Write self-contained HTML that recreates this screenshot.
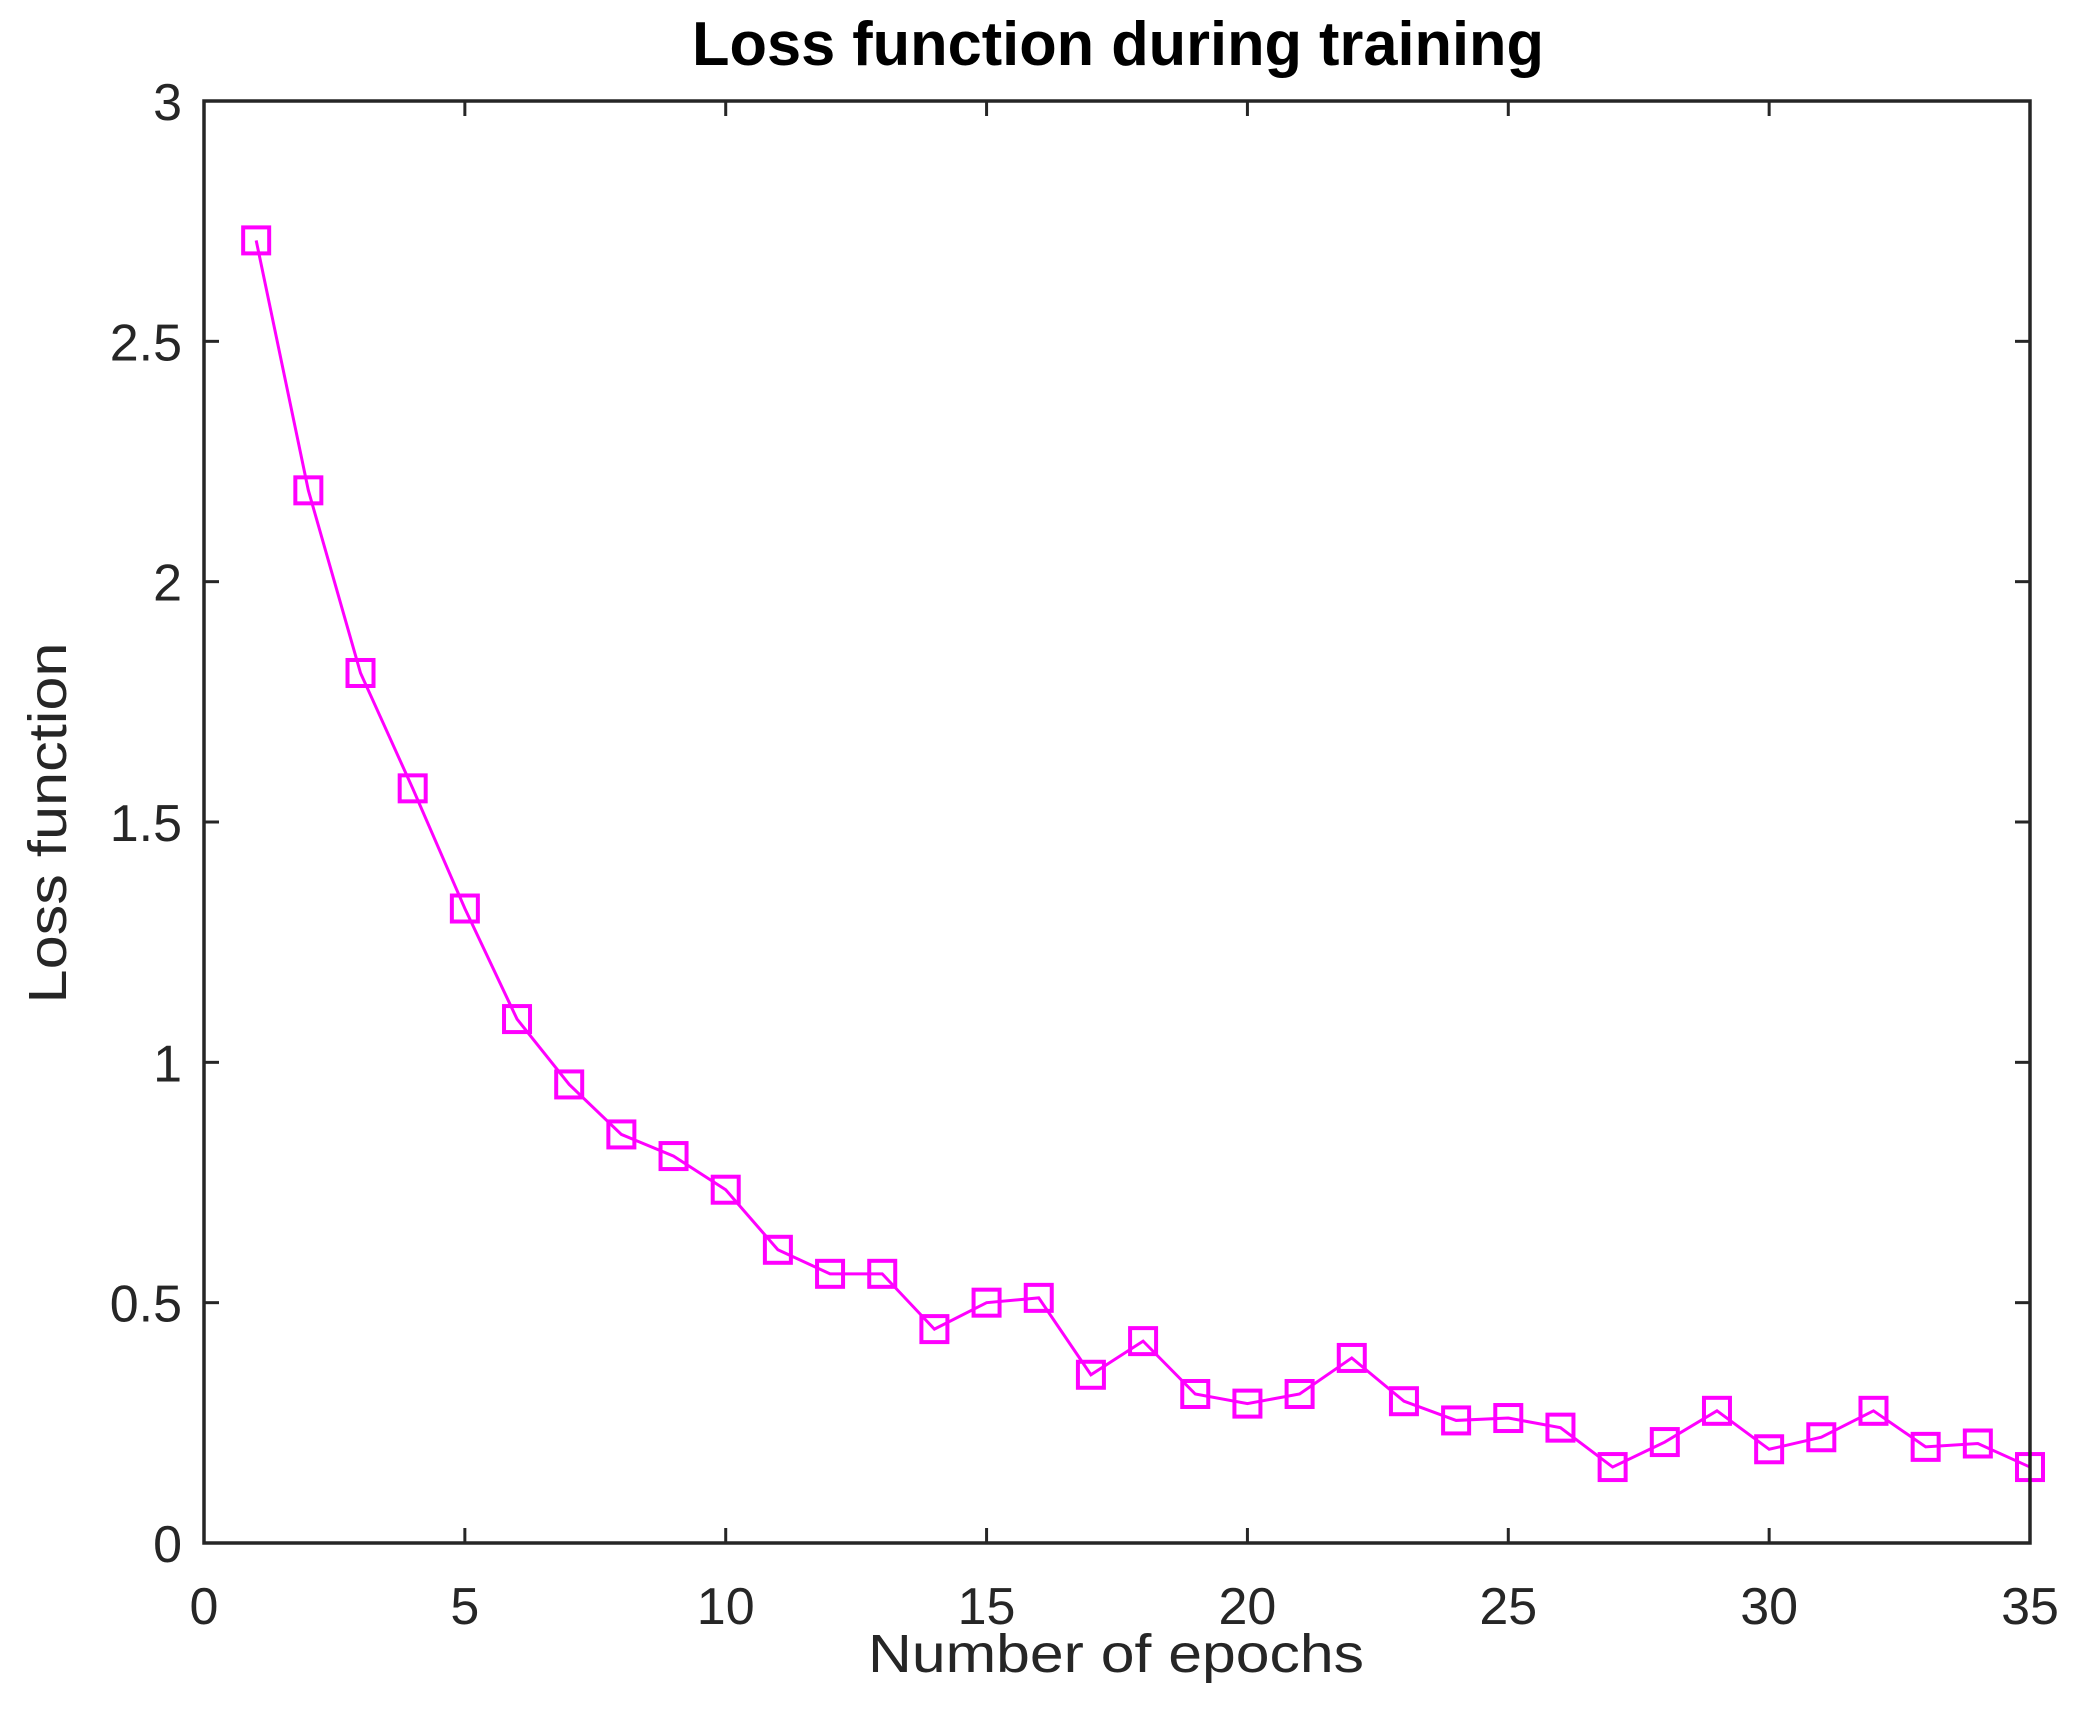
<!DOCTYPE html>
<html><head><meta charset="utf-8"><style>
html,body{margin:0;padding:0;background:#fff}
svg{display:block}
text{font-family:"Liberation Sans",Arial,sans-serif;fill:#262626}
</style></head><body>
<svg id="chart" width="2084" height="1736" viewBox="0 0 2084 1736" xmlns="http://www.w3.org/2000/svg">
<rect x="0" y="0" width="2084" height="1736" fill="#fff"/>
<text x="1118" y="65" text-anchor="middle" font-size="62" font-weight="bold" style="fill:#000" textLength="852" lengthAdjust="spacingAndGlyphs">Loss function during training</text>
<g id="grid"></g>
<g id="series"></g>
<rect x="204" y="101" width="1826" height="1442" fill="none" stroke="#262626" stroke-width="3.5"/>
<text x="1116" y="1672" text-anchor="middle" font-size="54" textLength="496" lengthAdjust="spacingAndGlyphs">Number of epochs</text>
<text transform="translate(66,823) rotate(-90)" text-anchor="middle" font-size="54" textLength="361" lengthAdjust="spacingAndGlyphs">Loss function</text>
</svg>
<script>
const epochs=[1,2,3,4,5,6,7,8,9,10,11,12,13,14,15,16,17,18,19,20,21,22,23,24,25,26,27,28,29,30,31,32,33,34,35];
const lossValues=[2.71,2.19,1.81,1.57,1.32,1.09,0.954,0.85,0.805,0.735,0.61,0.56,0.56,0.445,0.50,0.51,0.35,0.42,0.31,0.29,0.31,0.385,0.295,0.255,0.26,0.24,0.158,0.21,0.275,0.195,0.22,0.275,0.20,0.207,0.158];
const xTicks=[0,5,10,15,20,25,30,35];
const yTicks=[0,0.5,1,1.5,2,2.5,3];
const yTickLabels=["0","0.5","1","1.5","2","2.5","3"];

const L=204,R=2030,T=101,B=1543;
const xs=v=>L+(v-0)/(35-0)*(R-L);
const ys=v=>B-(v-0)/(3-0)*(B-T);
const NS="http://www.w3.org/2000/svg";
const grid=document.getElementById('grid'),ser=document.getElementById('series');
function mk(tag,attrs,parent){const e=document.createElementNS(NS,tag);for(const k in attrs)e.setAttribute(k,attrs[k]);parent.appendChild(e);return e;}
const tl=15;
xTicks.forEach(t=>{
  const x=xs(t);
  const a=mk('line',{x1:x,x2:x,y1:B,y2:B-tl,stroke:'#262626','stroke-width':3},grid);
  
  
  const b=mk('line',{x1:x,x2:x,y1:T,y2:T+tl,stroke:'#262626','stroke-width':3},grid);
  
  
  const tx=mk('text',{x:x,y:1624,'text-anchor':'middle','font-size':52},grid);
  tx.textContent=String(t);
  
  
});
yTicks.forEach((t,i)=>{
  const y=ys(t);
  const a=mk('line',{x1:L,x2:L+tl,y1:y,y2:y,stroke:'#262626','stroke-width':3},grid);
  
  
  const b=mk('line',{x1:R,x2:R-tl,y1:y,y2:y,stroke:'#262626','stroke-width':3},grid);
  
  
  const tx=mk('text',{x:182,y:y+19,'text-anchor':'end','font-size':52},grid);
  tx.textContent=yTickLabels[i];
  
  
});
const pts=epochs.map((e,i)=>xs(e)+','+ys(lossValues[i])).join(' ');
const pl=mk('polyline',{points:pts,fill:'none',stroke:'#ff00ff','stroke-width':3},ser);


const m=26;
epochs.forEach((e,i)=>{
  const r=mk('rect',{x:xs(e)-m/2,y:ys(lossValues[i])-m/2,width:m,height:m,fill:'none',stroke:'#ff00ff','stroke-width':4},ser);
  
  
});
</script>
</body></html>
